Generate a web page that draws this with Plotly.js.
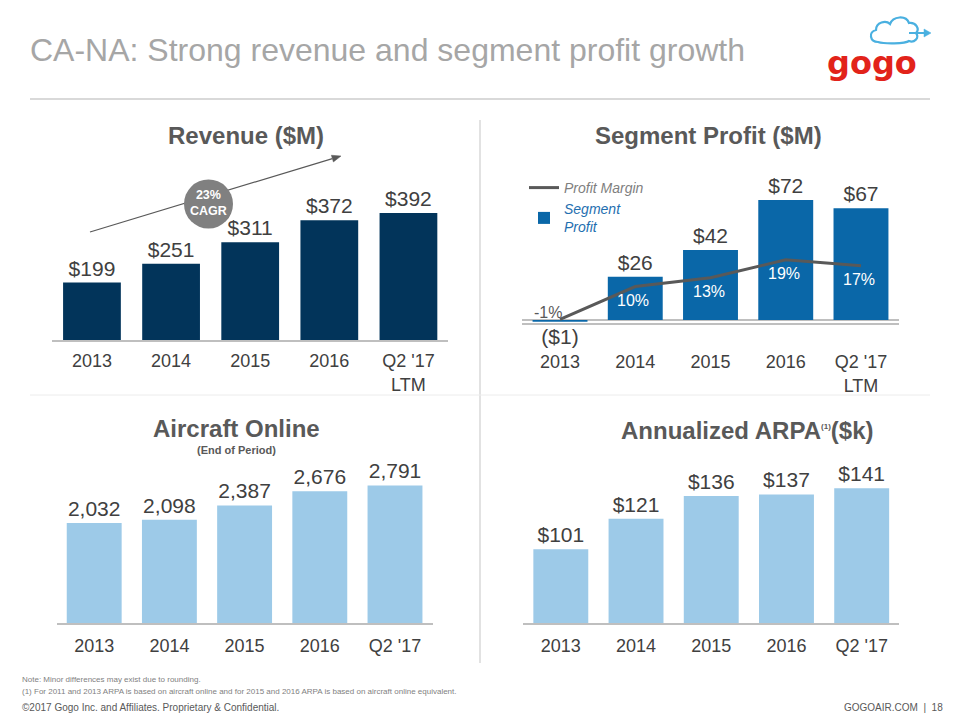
<!DOCTYPE html>
<html>
<head>
<meta charset="utf-8">
<script src="https://cdn.plot.ly/plotly-3.0.1.min.js"></script>
<style>
html,body{margin:0;padding:0;background:#fff;}
#chart{width:960px;height:720px;}
</style>
</head>
<body>
<div id="chart"></div>
<script>
// ---- data ----
var categories = ["2013", "2014", "2015", "2016", "Q2 '17<br>LTM"];
var categoriesQ = ["2013", "2014", "2015", "2016", "Q2 '17"];
var revenue = [199, 251, 311, 372, 392];
var segmentProfit = [-1, 26, 42, 72, 67];
var profitMargin = [-1, 10, 13, 19, 17];
var aircraftOnline = [2032, 2098, 2387, 2676, 2791];
var arpa = [101, 121, 136, 137, 141];
var cagrLabel = "23%<br>CAGR";

// ---- helpers (pixel -> paper) ----
var W = 960, H = 720;
function px(x){ return x / W; }
function py(y){ return 1 - y / H; }
function dom(x0, x1){ return [px(x0), px(x1)]; }
function domY(top, bottom){ return [py(bottom), py(top)]; }

var FONT = "Liberation Sans, Arial, Helvetica, sans-serif";
var TXT = "#404040";
var TITLE = "#595959";
var NAVY = "#02345a";
var BLUE = "#0a67a8";
var LIGHT = "#9dcae8";

var segText = segmentProfit.map(function(v){ return v < 0 ? "($" + (-v) + ")" : "$" + v; });

var barCommon = {type: "bar", textposition: "outside", cliponaxis: false, constraintext: "none",
  textfont: {family: FONT, size: 21, color: TXT}, hoverinfo: "skip"};

var data = [
  Object.assign({}, barCommon, {x: categories, y: revenue, xaxis: "x", yaxis: "y",
    marker: {color: NAVY}, texttemplate: "$%{y}", showlegend: false, name: "Revenue"}),
  {type: "scatter", mode: "lines", x: categories, y: profitMargin, xaxis: "x2", yaxis: "y5",
    name: "Profit Margin", line: {color: "#595959", width: 3},
    cliponaxis: false, showlegend: true, hoverinfo: "skip"},
  Object.assign({}, barCommon, {x: categories, y: segmentProfit, xaxis: "x2", yaxis: "y2",
    marker: {color: BLUE}, text: segText, texttemplate: "%{text}",
    name: '<span style="color:#1f6fb0">Segment</span><br><span style="color:#1f6fb0">Profit</span>',
    showlegend: true}),
  Object.assign({}, barCommon, {x: categoriesQ, y: aircraftOnline, xaxis: "x3", yaxis: "y3",
    marker: {color: LIGHT}, texttemplate: "%{y:,}", showlegend: false, name: "Aircraft Online"}),
  Object.assign({}, barCommon, {x: categoriesQ, y: arpa, xaxis: "x4", yaxis: "y4",
    marker: {color: LIGHT}, texttemplate: "$%{y}", showlegend: false, name: "ARPA"})
];

function xax(d, anchor, standoff){
  return {domain: d, anchor: anchor, type: "category", range: [-0.5, 4.5], autorange: false,
    showgrid: false, zeroline: false,
    showline: true, linecolor: "#bfbfbf", linewidth: 1.5, ticks: "", ticklabelstandoff: standoff,
    tickfont: {family: FONT, size: 18, color: TXT}, fixedrange: true};
}
function yax(d, anchor, range){
  return {domain: d, anchor: anchor, range: range, visible: false, showgrid: false, zeroline: false, fixedrange: true};
}

function paperText(text, x, y, size, color, bold, anchor){
  return {text: text, x: px(x), y: py(y), xref: "paper", yref: "paper", showarrow: false,
    xanchor: anchor || "center", yanchor: "middle",
    font: {family: FONT, size: size, color: color, weight: bold ? "bold" : "normal"}};
}

// arrow (line + triangular head) in pixel coordinates
function arrowShapes(x0, y0, x1, y1, color, width, headLen, headHalf){
  var dx = x1 - x0, dy = y1 - y0, L = Math.sqrt(dx*dx + dy*dy);
  var ux = dx / L, uy = dy / L;
  var bx = x1 - ux * headLen, by = y1 - uy * headLen;
  var p1 = [bx - uy * headHalf, by + ux * headHalf], p2 = [bx + uy * headHalf, by - ux * headHalf];
  return [
    {type: "line", xref: "paper", yref: "paper", x0: px(x0), y0: py(y0), x1: px(bx), y1: py(by),
      line: {color: color, width: width}, layer: "above"},
    {type: "path", xref: "paper", yref: "paper", layer: "above",
      path: "M " + px(x1) + "," + py(y1) + " L " + px(p1[0]) + "," + py(p1[1]) + " L " + px(p2[0]) + "," + py(p2[1]) + " Z",
      fillcolor: color, line: {color: color, width: 0.5}}
  ];
}

function cloudPath(){
  var pts = [
    ["M", [878, 42]],
    ["C", [870, 42], [868, 32], [876, 30]],
    ["C", [876, 22], [886, 20], [890, 24]],
    ["C", [893, 16], [906, 15], [909, 23]],
    ["C", [916, 22], [920, 29], [916, 33]],
    ["C", [920, 38], [914, 43], [909, 41]],
    ["C", [905, 44], [884, 44], [878, 42]],
    ["Z"]
  ];
  return pts.map(function(seg){
    if (seg[0] === "Z") return "Z";
    return seg[0] + " " + seg.slice(1).map(function(p){ return px(p[0]).toFixed(5) + "," + py(p[1]).toFixed(5); }).join(" ");
  }).join(" ");
}

// profit margin labels, placed from the data on the margin axis (x = category index)
var marginAnn = profitMargin.map(function(v, i){
  var neg = v < 0;
  return {text: v + "%", x: i, y: v, xref: "x2", yref: "y5", showarrow: false,
    xanchor: "center", yanchor: "middle", xshift: neg ? -12 : -2, yshift: neg ? 7 : -14,
    font: {family: FONT, size: 16, color: neg ? TITLE : "#ffffff"}};
});

var shapes = [
  {type: "line", xref: "paper", yref: "paper", x0: px(30), x1: px(930), y0: py(99), y1: py(99),
    line: {color: "#d9d9d9", width: 2}},
  {type: "line", xref: "paper", yref: "paper", x0: px(480), x1: px(480), y0: py(120), y1: py(663),
    line: {color: "#d9d9d9", width: 1.5}},
  {type: "line", xref: "paper", yref: "paper", x0: px(30), x1: px(930), y0: py(395), y1: py(395),
    line: {color: "#ececec", width: 1}}
].concat(arrowShapes(90, 232, 341, 156, "#595959", 1.2, 9, 3.5)).concat([
  {type: "circle", xref: "paper", yref: "paper", x0: px(184), x1: px(233), y0: py(228.5), y1: py(179.5),
    fillcolor: "#808080", line: {width: 0}, layer: "above"},
  {type: "path", xref: "paper", yref: "paper", layer: "above",
    path: cloudPath(), line: {color: "#4ab0e0", width: 2.2}, fillcolor: "rgba(0,0,0,0)"}
]).concat(arrowShapes(909, 33, 931, 33, "#4ab0e0", 2, 7, 4));

var layout = {
  width: W, height: H,
  margin: {l: 0, r: 0, t: 0, b: 0},
  paper_bgcolor: "#ffffff", plot_bgcolor: "rgba(0,0,0,0)",
  bargap: 0.27,
  font: {family: FONT, color: TXT},
  title: {text: "CA-NA: Strong revenue and segment profit growth", x: px(30), xanchor: "left",
    y: py(50), yanchor: "middle", font: {family: FONT, size: 32, color: "#a6a6a6"}},
  xaxis: xax(dom(52.4, 448), "y", 4),
  yaxis: yax(domY(195.6, 340), "x", [40, 440]),
  xaxis2: xax(dom(522.4, 898.6), "y2", 22),
  yaxis2: Object.assign(yax(domY(186.7, 323.3), "x2", [-2, 80]), {visible: true, showticklabels: false, ticks: "",
    zeroline: true, zerolinecolor: "#bfbfbf", zerolinewidth: 1.5}),
  yaxis5: {overlaying: "y2", anchor: "x2", side: "right", range: [-2.36, 43.6], visible: false, fixedrange: true},
  xaxis3: xax(dom(56.6, 432.6), "y3", 6),
  yaxis3: yax(domY(465.3, 623.3), "x3", [0, 3200]),
  xaxis4: xax(dom(523.2, 899.3), "y4", 6),
  yaxis4: yax(domY(459.3, 623.3), "x4", [52.5, 160]),
  showlegend: true,
  legend: {x: px(524), y: py(172), xanchor: "left", yanchor: "top", bgcolor: "rgba(0,0,0,0)",
    font: {family: FONT, size: 14, color: "#7f7f7f", style: "italic"}, tracegroupgap: 0, traceorder: "normal"},
  shapes: shapes,
  annotations: [
    paperText("Revenue ($M)", 246, 135, 24, TITLE, true),
    paperText("Segment Profit ($M)", 708, 135, 24, TITLE, true),
    paperText("Aircraft Online", 236, 428, 24, TITLE, true),
    paperText("(End of Period)", 236, 450, 11, TITLE, true),
    paperText('Annualized ARPA<sup><span style="font-size:8px">(1)</span></sup>($k)', 747, 430, 24, TITLE, true),
    paperText(cagrLabel, 208.5, 203, 12.5, "#ffffff", true),
    {text: "gogo", x: px(872), y: py(63), xref: "paper", yref: "paper", showarrow: false, xanchor: "center", yanchor: "middle",
      font: {family: "DejaVu Sans, sans-serif", size: 32, color: "#e2231a", weight: "bold"}},
    paperText("Note: Minor differences may exist due to rounding.", 20, 679, 8, "#7f7f7f", false, "left"),
    paperText("(1) For 2011 and 2013 ARPA is based on aircraft online and for 2015 and 2016 ARPA is based on aircraft online equivalent.", 20, 691, 8, "#7f7f7f", false, "left"),
    paperText("©2017 Gogo Inc. and Affiliates. Proprietary & Confidential.", 20, 707, 10, "#595959", false, "left"),
    paperText("GOGOAIR.COM  |  18", 945, 707, 10, "#595959", false, "right")
  ].concat(marginAnn)
};

Plotly.newPlot("chart", data, layout, {displayModeBar: false, staticPlot: true});
</script>
</body>
</html>
